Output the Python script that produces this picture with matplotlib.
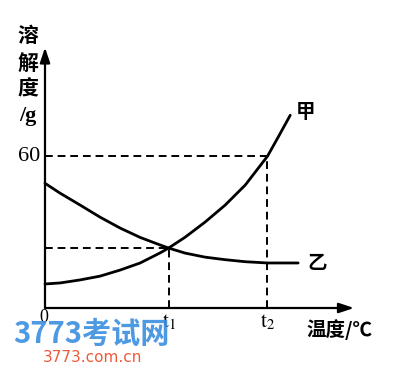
import matplotlib
matplotlib.use("Agg")
import matplotlib.pyplot as plt

plt.rcParams['mathtext.fontset'] = 'stix'

# data (temperature units, solubility g)
t1 = 50
t2 = 90
jia_x = [0, 6.1, 14.2, 22.3, 30.4, 38.5, 46.6, 50, 56.7, 64.8, 72.9, 81.0, 90, 94.3, 99.2]
jia_y = [9.5, 9.9, 11.1, 12.6, 15.0, 17.8, 21.8, 23.7, 28.0, 34.0, 40.7, 48.6, 60.0, 67.5, 76.2]
yi_x = [0, 6.1, 14.2, 22.3, 30.4, 38.5, 46.6, 50, 56.7, 64.8, 72.9, 81.0, 90, 102.4]
yi_y = [49.3, 45.4, 40.7, 35.9, 31.6, 27.9, 24.9, 23.7, 21.7, 20.1, 19.1, 18.3, 17.8, 17.8]
y_cross = 23.7
y_sixty = 60
ytick_label = "60"

W, H = 400, 382
fig = plt.figure(figsize=(W / 100, H / 100), dpi=100)
fig.patch.set_facecolor('white')
ax = fig.add_axes([45 / W, 74 / H, 309 / W, 258 / H])
ax.set_xlim(0, 125)
ax.set_ylim(0, 102)
ax.axis('off')

lw = 1.6
# axes with arrows
ax.annotate('', xy=(125, 0), xytext=(0, 0),
            arrowprops=dict(arrowstyle='-|>,head_length=0.9,head_width=0.3', color='black', lw=lw,
                            shrinkA=0, shrinkB=0), annotation_clip=False)
ax.annotate('', xy=(0, 103), xytext=(0, 0),
            arrowprops=dict(arrowstyle='-|>,head_length=0.9,head_width=0.3', color='black', lw=lw,
                            shrinkA=0, shrinkB=0), annotation_clip=False)

# curves
ax.plot(jia_x, jia_y, color='black', lw=2.0, solid_capstyle='round', solid_joinstyle='round', clip_on=False)
ax.plot(yi_x, yi_y, color='black', lw=2.0, solid_capstyle='round', solid_joinstyle='round', clip_on=False)

# dashed guide lines
dash = dict(color='black', lw=1.4, linestyle=(0, (4, 2.5)), clip_on=False)
ax.plot([0, t2], [y_sixty, y_sixty], **dash)
ax.plot([t2, t2], [0, y_sixty], **dash)
ax.plot([0, t1], [y_cross, y_cross], **dash)
ax.plot([t1, t1], [0, y_cross], **dash)

cjk = ['Noto Sans CJK SC', 'DejaVu Sans']
# y label stacked
for ch, py in zip(['溶', '解', '度'], [35, 63, 89]):
    fig.text(28 / W, 1 - py / H, ch, family=cjk, fontsize=15, fontweight='bold',
             ha='center', va='center')
fig.text(28 / W, 1 - 116 / H, '/g', family=['Liberation Serif'], fontsize=16, fontweight='bold',
         ha='center', va='center')

fig.text(29 / W, 1 - 157 / H, ytick_label, family=['Liberation Serif'], fontsize=16,
         ha='center', va='center')
fig.text(44 / W, 1 - 317 / H, '0', family=['Liberation Serif'], fontsize=13,
         ha='center', va='center')
ax.text(t1, -5.5, r'$\mathrm{t}_1$', fontsize=15, ha='center', va='center')
ax.text(t2, -5.5, r'$\mathrm{t}_2$', fontsize=15, ha='center', va='center')
fig.text(339 / W, 1 - 330 / H, '温度/℃', family=cjk, fontsize=14, fontweight='bold',
         ha='center', va='center')
fig.text(306 / W, 1 - 112 / H, '甲', family=cjk, fontsize=14, fontweight='bold',
         ha='center', va='center')
fig.text(317 / W, 1 - 263 / H, '乙', family=cjk, fontsize=14, fontweight='bold',
         ha='center', va='center')

# watermark
fig.text(91 / W, 1 - 334 / H, '3773考试网', family=cjk, fontsize=21, fontweight='bold',
         style='italic', color='#3a8fe0', ha='center', va='center', alpha=0.9)
fig.text(92 / W, 1 - 357 / H, '3773.com.cn', family=['DejaVu Sans'], fontsize=11,
         color='#ee5a3c', ha='center', va='center')

fig.savefig('out.png', dpi=100, facecolor='white')
